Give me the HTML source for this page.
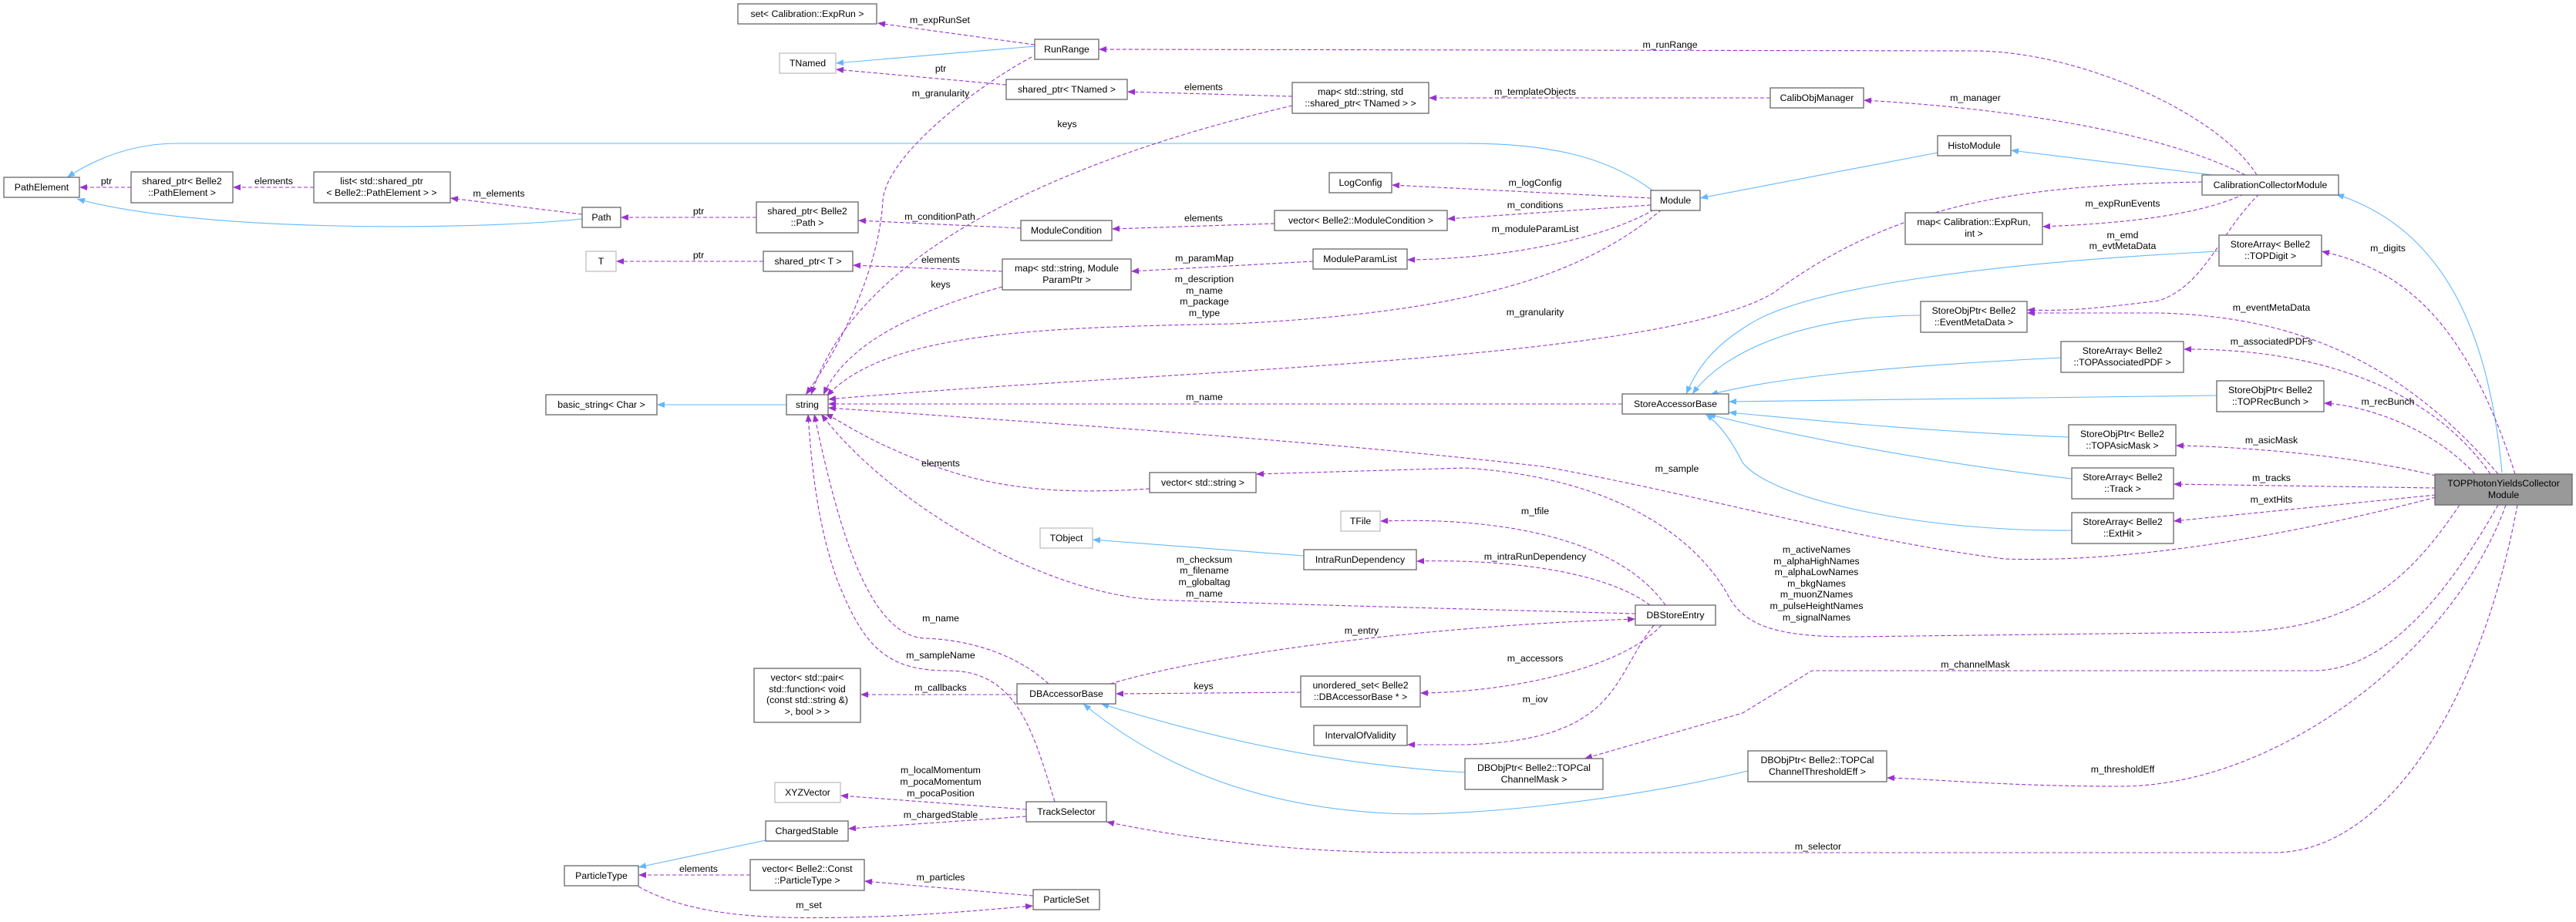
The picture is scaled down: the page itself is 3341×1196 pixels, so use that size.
<!DOCTYPE html>
<html><head><meta charset="utf-8"><style>
html,body{margin:0;padding:0;background:#fff;}
svg{display:block;}
text{font-family:"Liberation Sans",Helvetica,Arial,sans-serif;font-size:12.3px;fill:#000;}
.n{fill:#fff;stroke:#666;stroke-width:1.3;}
.l{fill:#fff;stroke:#bfbfbf;stroke-width:1.3;}
.g{fill:#999;stroke:#666;stroke-width:1.3;}
.p{fill:none;stroke:#9a32cd;stroke-width:1.1;stroke-dasharray:5,3;marker-end:url(#ap);}
.b{fill:none;stroke:#63b8ff;stroke-width:1.1;marker-end:url(#ab);}
</style></head><body>
<svg width="3341" height="1196" viewBox="0 0 3341 1196" xmlns="http://www.w3.org/2000/svg">
<defs>
<marker id="ap" viewBox="0 0 10 8" refX="10" refY="4" markerWidth="11" markerHeight="8" markerUnits="userSpaceOnUse" orient="auto"><path d="M0,0 L10,4 L0,8 z" fill="#9a32cd"/></marker>
<marker id="ab" viewBox="0 0 10 8" refX="10" refY="4" markerWidth="11" markerHeight="8" markerUnits="userSpaceOnUse" orient="auto"><path d="M0,0 L10,4 L0,8 z" fill="#63b8ff"/></marker>
</defs>

<!-- blue inheritance edges -->
<path class="b" d="M1342,60 L1084,82"/>
<path class="b" d="M2143,247 C2080,200 2000,186 1900,186 L230,186 C160,186 110,215 87,230"/>
<path class="b" d="M755,284 C600,300 250,300 100,258"/>
<path class="b" d="M2513,198 L2205,257"/>
<path class="b" d="M2870,227 L2608,195"/>
<path class="b" d="M3245,613 C3230,450 3180,300 3030,252"/>
<path class="b" d="M1020,525 L852,525"/>
<path class="b" d="M2878,326 C2600,340 2350,370 2270,420 C2220,450 2200,480 2187,511"/>
<path class="b" d="M2491,409 C2350,410 2240,450 2195,511"/>
<path class="b" d="M2673,464 C2450,475 2300,490 2218,512"/>
<path class="b" d="M2875,513 L2242,521"/>
<path class="b" d="M2683,567 C2500,560 2350,545 2242,535"/>
<path class="b" d="M2687,621 C2500,600 2300,560 2215,537"/>
<path class="b" d="M2687,688 C2500,690 2300,650 2260,600 C2245,570 2230,550 2212,537"/>
<path class="b" d="M1691,721 L1417,700"/>
<path class="b" d="M1900,1002 C1700,990 1550,950 1428,913"/>
<path class="b" d="M2267,1000 C2100,1040 1900,1060 1800,1055 C1600,1045 1480,975 1405,913"/>
<path class="b" d="M993,1090 L828,1125"/>

<!-- purple edges -->
<path class="p" d="M1342,58 L1138,30"/>
<path class="p" d="M2927,227 C2880,150 2700,66 2560,66 L1425,64"/>
<path class="p" d="M1305,110 L1084,90"/>
<path class="p" d="M1676,125 L1462,119"/>
<path class="p" d="M1676,137 C1450,190 1120,300 1052,512"/>
<path class="p" d="M2296,127 L1853,127"/>
<path class="p" d="M2912,227 C2800,170 2600,140 2417,130"/>
<path class="p" d="M1338,74 C1270,110 1150,200 1145,260 C1140,350 1090,450 1045,512"/>
<path class="p" d="M170,243 L103,243"/>
<path class="p" d="M407,243 L302,243"/>
<path class="p" d="M755,278 L584,257"/>
<path class="p" d="M981,282 L805,282"/>
<path class="p" d="M1324,296 L1113,286"/>
<path class="p" d="M1653,290 L1442,297"/>
<path class="p" d="M2141,266 L1877,284"/>
<path class="p" d="M2141,257 L1805,240"/>
<path class="p" d="M2145,272 C2080,310 1950,336 1825,337"/>
<path class="p" d="M1703,339 L1467,352"/>
<path class="p" d="M1300,352 L1106,344"/>
<path class="p" d="M990,339 L799,339"/>
<path class="p" d="M1300,372 C1200,400 1100,440 1068,512"/>
<path class="p" d="M2155,272 C2050,360 1900,405 1600,420 C1350,425 1150,430 1072,514"/>
<path class="p" d="M2856,236 C2600,240 2450,270 2300,380 C2150,470 1500,480 1074,518"/>
<path class="p" d="M2104,524 L1074,524"/>
<path class="p" d="M3159,645 C2950,700 2750,730 2600,725 C2400,700 2200,640 2000,605 C1700,570 1300,545 1074,529"/>
<path class="p" d="M1491,634 C1400,640 1300,640 1200,600 C1120,570 1090,545 1070,537"/>
<path class="p" d="M3190,655 C3120,760 3050,815 2900,820 L2400,826 C2300,826 2260,810 2240,770 C2200,700 2100,620 1900,607 L1629,615"/>
<path class="p" d="M2121,796 C1900,790 1600,782 1500,778 C1350,770 1150,650 1065,537"/>
<path class="p" d="M1360,887 C1320,850 1260,830 1200,828 C1130,825 1090,700 1056,537"/>
<path class="p" d="M1368,1040 C1340,950 1320,870 1230,870 C1150,870 1120,840 1085,750 C1060,680 1052,600 1048,537"/>
<path class="p" d="M1440,887 C1600,840 1900,810 2121,803"/>
<path class="p" d="M2160,785 C2100,700 1950,670 1790,676"/>
<path class="p" d="M2140,785 C2080,740 1950,725 1837,728"/>
<path class="p" d="M2155,811 C2100,870 1950,898 1842,899"/>
<path class="p" d="M1687,898 L1447,900"/>
<path class="p" d="M2145,811 C2090,880 2100,960 1900,966 L1825,966"/>
<path class="p" d="M1320,901 L1116,901"/>
<path class="p" d="M3240,655 C3180,760 3100,870 3000,870 L2350,870 L2260,925 L2055,984"/>
<path class="p" d="M3250,655 C3180,850 2950,1020 2750,1020 C2600,1020 2500,1010 2447,1009"/>
<path class="p" d="M3265,655 C3220,900 3100,1105 2950,1106 L1830,1106 C1650,1106 1500,1080 1435,1066"/>
<path class="p" d="M1331,1050 L1090,1032"/>
<path class="p" d="M1331,1059 L1100,1075"/>
<path class="p" d="M1340,1162 L1121,1143"/>
<path class="p" d="M973,1135 L828,1135"/>
<path class="p" d="M828,1150 C900,1190 1000,1192 1100,1190 C1200,1188 1280,1180 1340,1175"/>
<path class="p" d="M3262,615 C3200,420 3120,350 3011,326"/>
<path class="p" d="M3240,615 C3100,450 2950,410 2800,406 L2629,406"/>
<path class="p" d="M2930,252 C2880,300 2860,370 2800,390 C2720,400 2680,404 2629,402"/>
<path class="p" d="M2910,252 C2850,280 2750,290 2649,294"/>
<path class="p" d="M3230,615 C3150,500 3000,452 2832,453"/>
<path class="p" d="M3210,615 C3150,550 3060,525 3014,523"/>
<path class="p" d="M3159,617 C3050,590 2900,579 2822,578"/>
<path class="p" d="M3159,633 L2819,628"/>
<path class="p" d="M3159,642 L2819,676"/>

<!-- edge labels -->
<g text-anchor="middle">
<text x="1219" y="30">m_expRunSet</text>
<text x="2166" y="62">m_runRange</text>
<text x="1220" y="93">ptr</text>
<text x="1561" y="117">elements</text>
<text x="1384" y="165">keys</text>
<text x="1991" y="123">m_templateObjects</text>
<text x="2562" y="131">m_manager</text>
<text x="1220" y="125">m_granularity</text>
<text x="138" y="239">ptr</text>
<text x="355" y="239">elements</text>
<text x="647" y="255">m_elements</text>
<text x="906" y="278">ptr</text>
<text x="1219" y="285">m_conditionPath</text>
<text x="1561" y="287">elements</text>
<text x="1991" y="270">m_conditions</text>
<text x="1991" y="241">m_logConfig</text>
<text x="1991" y="301">m_moduleParamList</text>
<text x="1562" y="339">m_paramMap</text>
<text x="1220" y="341">elements</text>
<text x="906" y="335">ptr</text>
<text x="1220" y="373">keys</text>
<text x="1562" y="366">m_description</text>
<text x="1562" y="381">m_name</text>
<text x="1562" y="395">m_package</text>
<text x="1562" y="410">m_type</text>
<text x="1991" y="409">m_granularity</text>
<text x="1562" y="519">m_name</text>
<text x="2175" y="612">m_sample</text>
<text x="1220" y="605">elements</text>
<text x="2356" y="717">m_activeNames</text>
<text x="2356" y="732">m_alphaHighNames</text>
<text x="2356" y="746">m_alphaLowNames</text>
<text x="2356" y="761">m_bkgNames</text>
<text x="2356" y="775">m_muonZNames</text>
<text x="2356" y="790">m_pulseHeightNames</text>
<text x="2356" y="805">m_signalNames</text>
<text x="1562" y="730">m_checksum</text>
<text x="1562" y="744">m_filename</text>
<text x="1562" y="759">m_globaltag</text>
<text x="1562" y="774">m_name</text>
<text x="1220" y="806">m_name</text>
<text x="1220" y="854">m_sampleName</text>
<text x="1766" y="822">m_entry</text>
<text x="1991" y="667">m_tfile</text>
<text x="1991" y="726">m_intraRunDependency</text>
<text x="1991" y="858">m_accessors</text>
<text x="1561" y="894">keys</text>
<text x="1991" y="911">m_iov</text>
<text x="1220" y="896">m_callbacks</text>
<text x="2562" y="866">m_channelMask</text>
<text x="2753" y="1002">m_thresholdEff</text>
<text x="2358" y="1102">m_selector</text>
<text x="1220" y="1003">m_localMomentum</text>
<text x="1220" y="1018">m_pocaMomentum</text>
<text x="1220" y="1033">m_pocaPosition</text>
<text x="1220" y="1061">m_chargedStable</text>
<text x="1220" y="1142">m_particles</text>
<text x="906" y="1131">elements</text>
<text x="1049" y="1178">m_set</text>
<text x="3097" y="326">m_digits</text>
<text x="2946" y="403">m_eventMetaData</text>
<text x="2753" y="309">m_emd</text>
<text x="2753" y="323">m_evtMetaData</text>
<text x="2753" y="268">m_expRunEvents</text>
<text x="2946" y="447">m_associatedPDFs</text>
<text x="3097" y="525">m_recBunch</text>
<text x="2946" y="575">m_asicMask</text>
<text x="2946" y="624">m_tracks</text>
<text x="2946" y="652">m_extHits</text>
</g>

<!-- nodes -->
<g text-anchor="middle">
<rect class="n" x="957" y="5" width="180" height="26"/><text x="1047" y="22">set&lt; Calibration::ExpRun &gt;</text>
<rect class="l" x="1011" y="69" width="73" height="26"/><text x="1047.5" y="86">TNamed</text>
<rect class="n" x="5" y="230" width="98" height="26"/><text x="54" y="247">PathElement</text>
<rect class="n" x="170" y="223" width="132" height="40"/><text x="236" y="239">shared_ptr&lt; Belle2</text><text x="236" y="254">::PathElement &gt;</text>
<rect class="n" x="407" y="223" width="177" height="40"/><text x="495" y="239">list&lt; std::shared_ptr</text><text x="495" y="254">&lt; Belle2::PathElement &gt; &gt;</text>
<rect class="n" x="755" y="269" width="50" height="26"/><text x="780" y="286">Path</text>
<rect class="n" x="981" y="262" width="132" height="40"/><text x="1047" y="278">shared_ptr&lt; Belle2</text><text x="1047" y="293">::Path &gt;</text>
<rect class="l" x="760" y="326" width="39" height="26"/><text x="779.5" y="343">T</text>
<rect class="n" x="990" y="326" width="116" height="26"/><text x="1048" y="343">shared_ptr&lt; T &gt;</text>
<rect class="n" x="708" y="512" width="144" height="26"/><text x="780" y="529">basic_string&lt; Char &gt;</text>
<rect class="n" x="1020" y="512" width="54" height="26"/><text x="1047" y="529">string</text>
<rect class="n" x="1342" y="51" width="83" height="26"/><text x="1383.5" y="68">RunRange</text>
<rect class="n" x="1305" y="103" width="157" height="26"/><text x="1383.5" y="120">shared_ptr&lt; TNamed &gt;</text>
<rect class="n" x="1676" y="107" width="177" height="40"/><text x="1764.5" y="123">map&lt; std::string, std</text><text x="1764.5" y="138">::shared_ptr&lt; TNamed &gt; &gt;</text>
<rect class="n" x="1724" y="224" width="81" height="26"/><text x="1764.5" y="241">LogConfig</text>
<rect class="n" x="2141" y="247" width="64" height="26"/><text x="2173" y="264">Module</text>
<rect class="n" x="1653" y="273" width="224" height="26"/><text x="1765" y="290">vector&lt; Belle2::ModuleCondition &gt;</text>
<rect class="n" x="1324" y="286" width="118" height="26"/><text x="1383" y="303">ModuleCondition</text>
<rect class="n" x="1703" y="323" width="122" height="26"/><text x="1764" y="340">ModuleParamList</text>
<rect class="n" x="1300" y="336" width="167" height="40"/><text x="1383.5" y="352">map&lt; std::string, Module</text><text x="1383.5" y="367">ParamPtr &gt;</text>
<rect class="n" x="2104" y="511" width="138" height="26"/><text x="2173" y="528">StoreAccessorBase</text>
<rect class="n" x="2296" y="114" width="121" height="26"/><text x="2356.5" y="131">CalibObjManager</text>
<rect class="n" x="2513" y="176" width="95" height="26"/><text x="2560.5" y="193">HistoModule</text>
<rect class="n" x="2856" y="227" width="177" height="26"/><text x="2944.5" y="244">CalibrationCollectorModule</text>
<rect class="n" x="2471" y="276" width="178" height="41"/><text x="2560" y="292">map&lt; Calibration::ExpRun,</text><text x="2560" y="307">int &gt;</text>
<rect class="n" x="2878" y="305" width="133" height="40"/><text x="2944.5" y="321">StoreArray&lt; Belle2</text><text x="2944.5" y="336">::TOPDigit &gt;</text>
<rect class="n" x="2491" y="391" width="138" height="40"/><text x="2560" y="407">StoreObjPtr&lt; Belle2</text><text x="2560" y="422">::EventMetaData &gt;</text>
<rect class="n" x="2673" y="443" width="159" height="40"/><text x="2752.5" y="459">StoreArray&lt; Belle2</text><text x="2752.5" y="474">::TOPAssociatedPDF &gt;</text>
<rect class="n" x="2875" y="494" width="139" height="40"/><text x="2944.5" y="510">StoreObjPtr&lt; Belle2</text><text x="2944.5" y="525">::TOPRecBunch &gt;</text>
<rect class="n" x="2683" y="551" width="139" height="40"/><text x="2752.5" y="567">StoreObjPtr&lt; Belle2</text><text x="2752.5" y="582">::TOPAsicMask &gt;</text>
<rect class="n" x="2687" y="607" width="132" height="40"/><text x="2753" y="623">StoreArray&lt; Belle2</text><text x="2753" y="638">::Track &gt;</text>
<rect class="n" x="2687" y="665" width="132" height="40"/><text x="2753" y="681">StoreArray&lt; Belle2</text><text x="2753" y="696">::ExtHit &gt;</text>
<rect class="g" x="3158" y="615" width="178" height="40"/><text x="3247" y="631">TOPPhotonYieldsCollector</text><text x="3247" y="646">Module</text>
<rect class="n" x="2267" y="974" width="180" height="40"/><text x="2357" y="990">DBObjPtr&lt; Belle2::TOPCal</text><text x="2357" y="1005">ChannelThresholdEff &gt;</text>
<rect class="n" x="1491" y="613" width="138" height="26"/><text x="1560" y="630">vector&lt; std::string &gt;</text>
<rect class="l" x="1739" y="663" width="51" height="26"/><text x="1764.5" y="680">TFile</text>
<rect class="l" x="1349" y="685" width="68" height="26"/><text x="1383" y="702">TObject</text>
<rect class="n" x="1691" y="713" width="146" height="26"/><text x="1764" y="730">IntraRunDependency</text>
<rect class="n" x="2121" y="785" width="104" height="26"/><text x="2173" y="802">DBStoreEntry</text>
<rect class="n" x="1319" y="887" width="128" height="26"/><text x="1383" y="904">DBAccessorBase</text>
<rect class="n" x="1687" y="877" width="155" height="40"/><text x="1764.5" y="893">unordered_set&lt; Belle2</text><text x="1764.5" y="908">::DBAccessorBase * &gt;</text>
<rect class="n" x="1704" y="941" width="121" height="26"/><text x="1764.5" y="958">IntervalOfValidity</text>
<rect class="n" x="1900" y="984" width="179" height="40"/><text x="1989.5" y="1000">DBObjPtr&lt; Belle2::TOPCal</text><text x="1989.5" y="1015">ChannelMask &gt;</text>
<rect class="n" x="1331" y="1040" width="104" height="26"/><text x="1383" y="1057">TrackSelector</text>
<rect class="n" x="1340" y="1154" width="86" height="26"/><text x="1383" y="1171">ParticleSet</text>
<rect class="n" x="978" y="867" width="138" height="70"/><text x="1047" y="883">vector&lt; std::pair&lt;</text><text x="1047" y="898">std::function&lt; void</text><text x="1047" y="912">(const std::string &amp;)</text><text x="1047" y="927">&gt;, bool &gt; &gt;</text>
<rect class="l" x="1005" y="1015" width="85" height="26"/><text x="1047.5" y="1032">XYZVector</text>
<rect class="n" x="993" y="1065" width="107" height="26"/><text x="1046.5" y="1082">ChargedStable</text>
<rect class="n" x="732" y="1123" width="96" height="26"/><text x="780" y="1140">ParticleType</text>
<rect class="n" x="973" y="1115" width="148" height="40"/><text x="1047" y="1131">vector&lt; Belle2::Const</text><text x="1047" y="1146">::ParticleType &gt;</text>
</g>
</svg>
</body></html>
